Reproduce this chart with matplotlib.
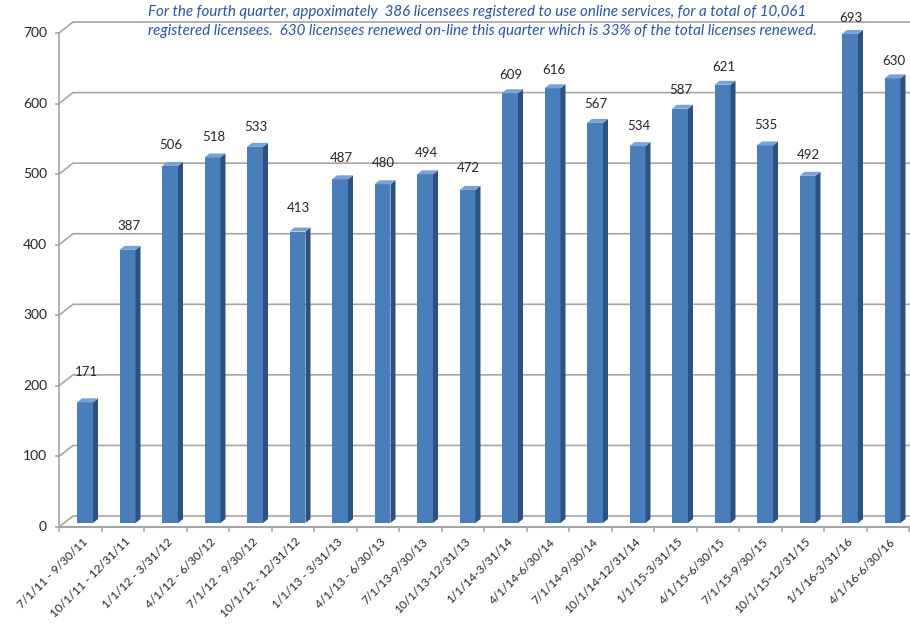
import matplotlib
matplotlib.use("Agg")
import matplotlib.pyplot as plt
from matplotlib.patches import Polygon

periods = [
    "7/1/11 - 9/30/11", "10/1/11 - 12/31/11", "1/1/12 - 3/31/12", "4/1/12 - 6/30/12",
    "7/1/12 - 9/30/12", "10/1/12 - 12/31/12", "1/1/13 - 3/31/13", "4/1/13 - 6/30/13",
    "7/1/13-9/30/13", "10/1/13-12/31/13", "1/1/14-3/31/14", "4/1/14-6/30/14",
    "7/1/14-9/30/14", "10/1/14-12/31/14", "1/1/15-3/31/15", "4/1/15-6/30/15",
    "7/1/15-9/30/15", "10/1/15-12/31/15", "1/1/16-3/31/16", "4/1/16-6/30/16",
]
renewals = [171, 387, 506, 518, 533, 413, 487, 480, 494, 472,
            609, 616, 567, 534, 587, 621, 535, 492, 693, 630]
y_ticks = [0, 100, 200, 300, 400, 500, 600, 700]
note_lines = [
    "For the fourth quarter, appoximately  386 licensees registered to use online services, for a total of 10,061",
    "registered licensees.  630 licensees renewed on-line this quarter which is 33% of the total licenses renewed.",
]

W, H, DPI = 910, 624, 100
X0_PX, X1_PX = 59, 909          # front edge of the category axis
Y0_PX = 527                     # value 0, pixels from top
PX_PER_UNIT = 0.7057            # vertical pixels per renewal
n = len(periods)
SLOT_PX = (X1_PX - X0_PX) / n

FONT = "Lato"
GRID = "#a6a6a6"
FRONT, SIDE, TOP = "#4a7ebb", "#2d5180", "#7aa2d4"


def dx(px):
    return px / SLOT_PX


def dy(px):
    return px / PX_PER_UNIT


fig = plt.figure(figsize=(W / DPI, H / DPI), dpi=DPI)
ax = fig.add_axes([X0_PX / W, 0, (X1_PX - X0_PX) / W, 1])
ax.set_xlim(-0.5, n - 0.5)
ax.set_ylim(-(H - Y0_PX) / PX_PER_UNIT, Y0_PX / PX_PER_UNIT)
ax.axis("off")

# back wall / floor offset for the 3-D look
wall_dx, wall_dy = dx(14), dy(11)
left = -0.5
right = n - 0.5 + dx(2)

for t in y_ticks:
    ax.plot([left, left + wall_dx, right], [t, t + wall_dy, t + wall_dy],
            color=GRID, lw=1.2, clip_on=False, zorder=1)
    ax.plot([left - dx(3), left], [t, t], color=GRID, lw=1.2, clip_on=False)
    ax.text(left - dx(12), t, str(t), ha="right", va="center",
            fontsize=10, family=FONT, color="#262626")

# front axes
ax.plot([left, left], [0, y_ticks[-1]], color=GRID, lw=1.2, clip_on=False)
ax.plot([left, right], [0, 0], color=GRID, lw=1.5, clip_on=False, zorder=1)
for i in range(n + 1):
    ax.plot([i - 0.5, i - 0.5], [0, -dy(4)], color=GRID, lw=1.2, clip_on=False)

# bars: front face, side and top
bar_w, side_x, side_y = dx(16), dx(5), dy(4)
base = dy(4)
for i, v in enumerate(renewals):
    x0 = i + dx(4.75) - bar_w / 2
    x1 = x0 + bar_w
    top = base + v
    ax.add_patch(Polygon([(x0, base), (x1, base), (x1, top), (x0, top)],
                         closed=True, fc=FRONT, ec="none", zorder=3))
    ax.add_patch(Polygon([(x1, base), (x1 + side_x, base + side_y),
                          (x1 + side_x, top + side_y), (x1, top)],
                         closed=True, fc=SIDE, ec="none", zorder=3))
    ax.add_patch(Polygon([(x0, top), (x1, top), (x1 + side_x, top + side_y),
                          (x0 + side_x, top + side_y)],
                         closed=True, fc=TOP, ec="none", zorder=3))
    ax.text(i + dx(6), v * 0.961 + 55, str(v), ha="center", va="center",
            fontsize=9.5, family=FONT, color="#262626", zorder=4)

for i, lab in enumerate(periods):
    ax.text(i + dx(2), -dy(9), lab, rotation=45, rotation_mode="anchor",
            ha="right", va="top", fontsize=8.6, family=FONT, color="#262626")

for k, line in enumerate(note_lines):
    fig.text(148 / W, 1 - (12 + 19 * k) / H, line, ha="left", va="center",
             fontsize=10.9, family=FONT, style="italic", color="#2a55a0")

fig.savefig("out.png", dpi=DPI)
